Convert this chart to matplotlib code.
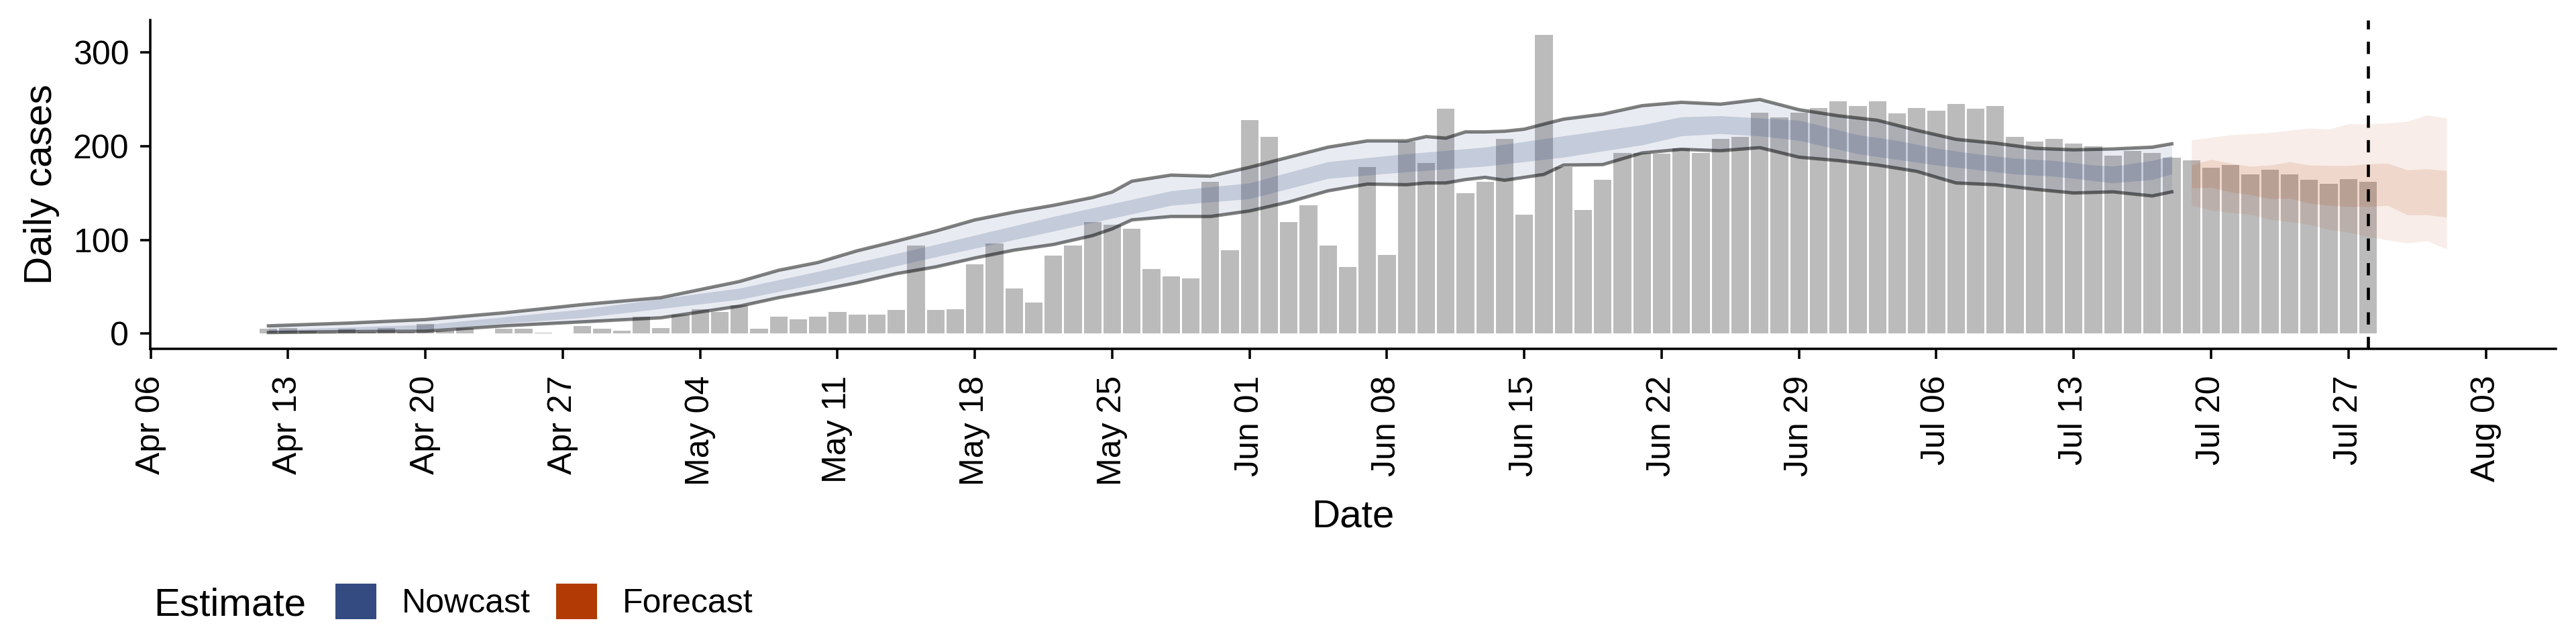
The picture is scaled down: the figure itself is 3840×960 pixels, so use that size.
import numpy as np
import pandas as pd
import matplotlib
matplotlib.use("Agg")
import matplotlib.pyplot as plt
import matplotlib.dates as mdates
from matplotlib.patches import Patch

plt.rcParams['font.family'] = ['Liberation Sans', 'DejaVu Sans']

# ---------------- data ----------------
START = "2020-04-06"   # reference date; day offsets below are days since this date

# observed daily cases (bars), one per day from Apr 12 to Jul 28
case_first_day = 6
cases = [5, 6, 3, 1, 5, 2, 6, 2, 10, 3, 6, 0, 5, 5, 1, 0, 8, 5, 3, 18,
         6, 20, 26, 23, 30, 5, 18, 15, 18, 23, 20, 20, 25, 94, 25, 26, 74, 96, 48, 33,
         83, 94, 119, 116, 112, 69, 61, 59, 162, 89, 228, 210, 119, 137, 94, 71, 178, 84, 205, 182,
         240, 150, 162, 208, 127, 319, 178, 132, 164, 193, 193, 192, 198, 193, 208, 210, 236, 231, 236, 241,
         248, 243, 248, 235, 241, 238, 245, 240, 243, 210, 205, 208, 203, 200, 190, 195, 193, 188, 185, 177,
         180, 170, 175, 170, 164, 160, 165, 162]

# nowcast 90% credible interval (outer band, with outline)
now90_days = [6, 10, 14, 18, 22, 26, 30, 32, 34, 36, 38, 40, 42, 44, 46, 48, 49, 50, 52, 54,
              56, 58, 60, 62, 64, 65, 66, 67, 68, 69, 70, 71, 72, 74, 76, 78, 80, 82, 84, 86,
              88, 90, 92, 94, 96, 98, 100, 102, 103]
now90_upper = [8.3, 11.2, 15.0, 22.2, 31.0, 38.4, 55.6, 67.6, 75.9, 88.4, 98.7, 109.4, 121.4, 129.7, 136.9,
               145.3, 151.2, 162.7, 169.2, 168.0, 177.5, 188.3, 199.0, 205.7, 205.7, 210.3, 208.6, 215.3,
               215.3, 216.0, 218.2, 223.6, 228.9, 234.2, 243.3, 246.9, 244.9, 249.9, 239.0, 232.5,
               227.7, 217.0, 207.4, 203.3, 197.8, 196.2, 197.1, 199.0, 202.6]
now90_lower = [1.1, 2.1, 2.6, 8.3, 12.6, 16.9, 29.3, 38.4, 46.1, 54.4, 64.0, 71.2, 80.7, 89.1, 95.1,
               104.6, 111.8, 121.4, 125.0, 125.0, 130.9, 140.5, 152.4, 159.6, 158.9, 160.8, 160.8, 164.4,
               166.8, 163.7, 166.8, 169.9, 179.9, 180.4, 192.8, 196.7, 195.2, 198.5, 188.3, 184.7,
               179.9, 173.2, 160.8, 158.9, 154.1, 150.1, 151.3, 146.9, 151.3]

# nowcast 50% credible interval (inner band)
now50_days = [6, 14, 22, 30, 34, 40, 46, 52, 56, 60, 64, 68, 72, 76, 78, 80, 82, 84, 87, 89,
              91, 93, 95, 97, 99, 100, 102, 103]
now50_upper = [4.1, 9.6, 26.0, 48.5, 66.4, 95.1, 125.0, 152.4, 160.8, 183.5, 191.9, 199.0, 211.0, 222.9,
               231.3, 232.5, 230.1, 227.7, 212.2, 206.2, 197.8, 191.9, 187.1, 184.7, 179.9, 178.7,
               184.7, 189.9]
now50_lower = [1.9, 4.8, 17.0, 36.5, 53.3, 81.9, 109.4, 136.9, 144.0, 165.6, 172.7, 178.7, 188.3, 201.4,
               211.0, 213.4, 211.0, 206.2, 191.9, 185.9, 179.9, 175.2, 170.4, 168.0, 163.2, 160.8,
               164.4, 170.4]

# forecast credible intervals, Jul 19 - Aug 01
fc_days = [104, 105, 106, 107, 108, 109, 110, 111, 112, 113, 114, 115, 116, 117]
fc90_upper = [206.7, 209.5, 212.2, 213.4, 214.6, 217.0, 219.3, 218.2, 224.1, 223.6, 224.9, 226.5, 233.2, 230.1]
fc90_lower = [136.9, 131.6, 129.3, 127.3, 122.1, 119.5, 116.6, 111.1, 108.2, 103.4, 99.9, 96.7, 99.1, 90.3]
fc50_upper = [179.9, 185.9, 181.8, 178.7, 179.9, 183.3, 179.9, 179.4, 179.4, 181.1, 181.8, 174.7, 175.9, 173.9]
fc50_lower = [155.5, 156.0, 151.2, 148.3, 144.0, 144.5, 139.3, 136.9, 135.7, 135.7, 136.9, 126.8, 126.8, 124.3]

last_data_day = 113           # dashed line: Jul 28
legend_labels = ["Nowcast", "Forecast"]
legend_title = "Estimate"
y_ticks = [0, 100, 200, 300]

# ---------------- helpers ----------------
base = pd.Timestamp(START)
def to_dates(days):
    return base + pd.to_timedelta(np.asarray(days), unit="D")

NOW_COL = "#344B82"
FC_COL = "#B23A04"
BAR_COL = "#BBBBBB"

fig = plt.figure(figsize=(12.8, 3.2), dpi=300)
ax = fig.add_axes([224 / 3840, 1 - 519.6 / 960, (3810 - 224) / 3840, (519.6 - 29.5) / 960])

case_days = np.arange(case_first_day, case_first_day + len(cases))
ax.bar(to_dates(case_days), cases, width=0.9, color=BAR_COL, linewidth=0, zorder=1)

ax.fill_between(to_dates(now90_days), now90_lower, now90_upper, color=NOW_COL, alpha=0.11, lw=0, zorder=2)
ax.fill_between(to_dates(now50_days), now50_lower, now50_upper, color=NOW_COL, alpha=0.20, lw=0, zorder=2)
ax.plot(to_dates(now90_days), now90_upper, color="black", alpha=0.5, lw=1.2, zorder=3)
ax.plot(to_dates(now90_days), now90_lower, color="black", alpha=0.5, lw=1.2, zorder=3)

ax.fill_between(to_dates(fc_days), fc90_lower, fc90_upper, color=FC_COL, alpha=0.09, lw=0, zorder=2)
ax.fill_between(to_dates(fc_days), fc50_lower, fc50_upper, color=FC_COL, alpha=0.12, lw=0, zorder=2)

ax.axvline(to_dates([last_data_day])[0], color="black", lw=1.1, linestyle=(0, (4, 4)), zorder=4)

# limits like ggplot's 5% expansion
xmin_d = case_first_day - 0.45
xmax_d = fc_days[-1]
xpad = 0.05 * (xmax_d - xmin_d)
ax.set_xlim(mdates.date2num(base) + xmin_d - xpad, mdates.date2num(base) + xmax_d + xpad)
ymax = max(cases)
ax.set_ylim(-0.05 * ymax, ymax * 1.05)

ax.set_xticks(pd.date_range(base, periods=18, freq="7D"))
ax.xaxis.set_major_formatter(mdates.DateFormatter("%b %d"))
ax.set_yticks(y_ticks)

for lab in ax.get_xticklabels():
    lab.set_rotation(90)
    lab.set_ha("center")
    lab.set_va("top")

for s in ["top", "right"]:
    ax.spines[s].set_visible(False)
for s in ["left", "bottom"]:
    ax.spines[s].set_linewidth(0.85)
ax.tick_params(axis="x", length=3.6, width=0.85, pad=6, labelsize=12)
ax.tick_params(axis="y", length=3.6, width=0.85, pad=4, labelsize=12)

ax.set_xlabel("Date", fontsize=14, va="baseline")
ax.xaxis.set_label_coords(0.5, (519.6 - 785) / 490.1)
ax.set_ylabel("Daily cases", fontsize=14)
ax.yaxis.set_label_coords((89 - 224) / 3586, 0.5)

fig.text(229.5 / 3840, 1 - 917 / 960, legend_title, fontsize=14, va="baseline", ha="left")
handles = [Patch(facecolor=NOW_COL, edgecolor="none"), Patch(facecolor=FC_COL, edgecolor="none")]
fig.legend(handles, legend_labels, loc="center left", bbox_to_anchor=(500 / 3840, 1 - 896.5 / 960),
           ncol=2, frameon=False, fontsize=12, borderpad=0, borderaxespad=0,
           handlelength=1.22, handleheight=1.26, handletextpad=0.76, columnspacing=0.76)

fig.savefig("out.png", dpi=300)
